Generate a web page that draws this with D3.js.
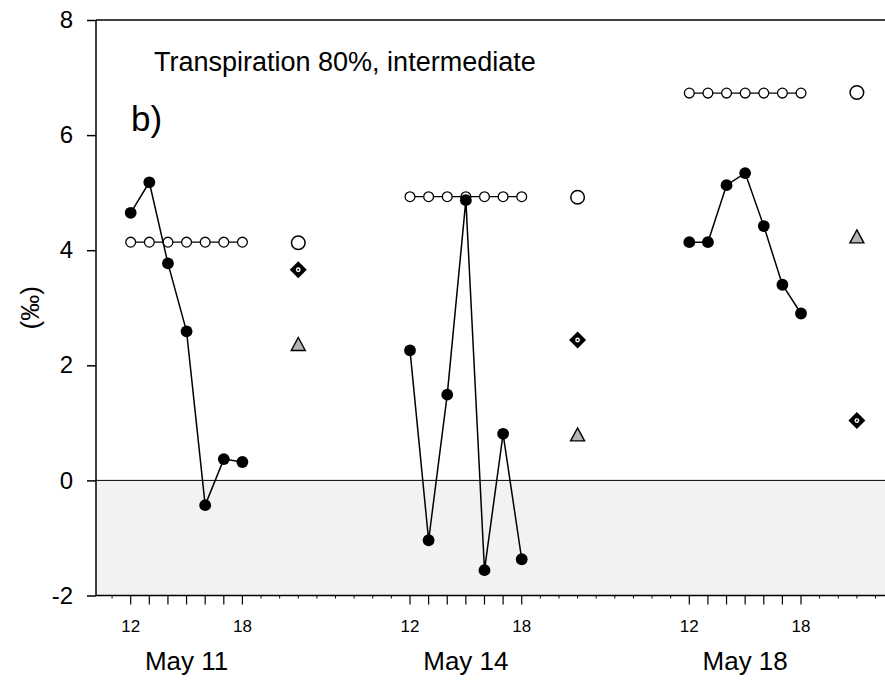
<!DOCTYPE html>
<html>
<head>
<meta charset="utf-8">
<script src="https://cdn.jsdelivr.net/npm/d3@7/dist/d3.min.js"></script>
<style>
  body { margin: 0; background: #fff; }
  svg { display: block; }
  text { font-family: "Liberation Sans", Arial, Helvetica, sans-serif; fill: #000; }
</style>
</head>
<body>
<svg id="chart" width="885" height="681"></svg>
<script>
// ---- data -------------------------------------------------------------
const days = ["May 11", "May 14", "May 18"];
const hours = [12, 13, 14, 15, 16, 17, 18];
const meanHour = 21;                       // where the daily means are plotted
const measured = [                         // hourly values (‰), filled dots
  [4.65, 5.18, 3.77, 2.59, -0.43, 0.37, 0.32],
  [2.26, -1.04, 1.49, 4.87, -1.56, 0.81, -1.37],
  [4.14, 4.14, 5.13, 5.34, 4.42, 3.40, 2.90]
];
const steadyState = [4.14, 4.93, 6.73];    // open-circle line, constant per day
const meanCircle = [4.13, 4.92, 6.74];
const meanDiamond = [3.66, 2.44, 1.04];
const meanTriangle = [2.37, 0.80, 4.24];
const yTicks = [-2, 0, 2, 4, 6, 8];
const labelledHours = [12, 18];
const titleText = "Transpiration 80%, intermediate";
const panelText = "b)";
const yLabelText = "(‰)";

// ---- layout -----------------------------------------------------------
const plotL = 96, plotR = 885, plotT = 20, plotB = 595.5;
const hoursPerDay = 15;                    // width of each day segment on the axis
const hourPx = 18.62;
const xStart = 12 - (130.7 - plotL) / hourPx;

const svg = d3.select("#chart");
const x = d3.scaleLinear()
  .domain([xStart, xStart + (plotR - plotL) / hourPx])
  .range([plotL, plotR]);
const y = d3.scaleLinear().domain([-2, 8]).range([plotB, plotT]);
const pos = (d, h) => x(d * hoursPerDay + h);

// shaded negative region
svg.append("rect")
  .attr("x", plotL).attr("y", y(0))
  .attr("width", plotR - plotL).attr("height", y(-2) - y(0))
  .attr("fill", "#f2f2f2");
svg.append("line")
  .attr("x1", plotL).attr("x2", plotR)
  .attr("y1", y(0)).attr("y2", y(0))
  .attr("stroke", "#000").attr("stroke-width", 1);

// frame
const frame = svg.append("g").attr("stroke", "#000").attr("stroke-width", 1.5).attr("fill", "none");
frame.append("line").attr("x1", plotL).attr("x2", plotR).attr("y1", plotT).attr("y2", plotT);
frame.append("line").attr("x1", plotL).attr("x2", plotR).attr("y1", plotB).attr("y2", plotB);
frame.append("line").attr("x1", plotL).attr("x2", plotL).attr("y1", plotT).attr("y2", plotB);

// y axis (plain hyphen for negatives)
const yAxis = d3.axisLeft(y).tickValues(yTicks).tickSize(9).tickPadding(14)
  .tickFormat(d => String(d));
const gy = svg.append("g").attr("transform", `translate(${plotL},0)`).call(yAxis);
gy.select(".domain").remove();
gy.selectAll(".tick line").attr("stroke", "#000").attr("stroke-width", 1.5);
gy.selectAll(".tick text")
  .attr("font-size", 24).attr("font-family", "Liberation Sans, Arial, sans-serif")
  .attr("fill", "#000");

// x axis: minor hourly ticks across the whole axis, major ticks 12–18 each day
const [d0, d1] = x.domain();
const minor = d3.range(Math.ceil(d0), Math.floor(d1) + 1);
const majorPos = [];
days.forEach((_, i) => hours.forEach(h => majorPos.push(i * hoursPerDay + h)));
const gx = svg.append("g");
gx.selectAll("line.minor").data(minor.filter(v => !majorPos.includes(v))).join("line")
  .attr("class", "minor")
  .attr("x1", d => x(d)).attr("x2", d => x(d))
  .attr("y1", plotB).attr("y2", plotB + 3)
  .attr("stroke", "#000").attr("stroke-width", 1);
gx.selectAll("line.major").data(majorPos).join("line")
  .attr("class", "major")
  .attr("x1", d => x(d)).attr("x2", d => x(d))
  .attr("y1", plotB).attr("y2", plotB + 9)
  .attr("stroke", "#000").attr("stroke-width", 1.2);
const hourLabels = [];
days.forEach((_, i) => labelledHours.forEach(h => hourLabels.push({ v: i * hoursPerDay + h, t: h })));
gx.selectAll("text.hour").data(hourLabels).join("text")
  .attr("class", "hour")
  .attr("x", d => x(d.v)).attr("y", 632)
  .attr("text-anchor", "middle").attr("font-size", 17)
  .text(d => d.t);
gx.selectAll("text.day").data(days).join("text")
  .attr("class", "day")
  .attr("x", (d, i) => pos(i, 15)).attr("y", 670)
  .attr("text-anchor", "middle").attr("font-size", 26)
  .text(d => d);

// y label
svg.append("text")
  .attr("transform", `translate(39,${(plotT + plotB) / 2}) rotate(-90)`)
  .attr("text-anchor", "middle").attr("font-size", 26)
  .text(yLabelText);

// title + panel letter
svg.append("text").attr("x", 154).attr("y", 71).attr("font-size", 27).text(titleText);
svg.append("text").attr("x", 131).attr("y", 131).attr("font-size", 35).text(panelText);

// steady-state lines with open circles
const line = d3.line().x(d => d[0]).y(d => d[1]);
days.forEach((_, i) => {
  const pts = hours.map(h => [pos(i, h), y(steadyState[i])]);
  svg.append("path").attr("d", line(pts))
    .attr("fill", "none").attr("stroke", "#000").attr("stroke-width", 1.3);
  svg.append("g").selectAll("circle").data(pts).join("circle")
    .attr("cx", d => d[0]).attr("cy", d => d[1]).attr("r", 4.9)
    .attr("fill", "#fff").attr("stroke", "#000").attr("stroke-width", 1.3);
});

// measured hourly values
days.forEach((_, i) => {
  const pts = hours.map((h, j) => [pos(i, h), y(measured[i][j])]);
  svg.append("path").attr("d", line(pts))
    .attr("fill", "none").attr("stroke", "#000").attr("stroke-width", 1.5);
  svg.append("g").selectAll("circle").data(pts).join("circle")
    .attr("cx", d => d[0]).attr("cy", d => d[1]).attr("r", 5.9)
    .attr("fill", "#000");
});

// daily means
days.forEach((_, i) => {
  const cx = pos(i, meanHour);
  svg.append("circle")
    .attr("cx", cx).attr("cy", y(meanCircle[i])).attr("r", 6.8)
    .attr("fill", "#fff").attr("stroke", "#000").attr("stroke-width", 1.5);

  const dy = y(meanDiamond[i]), s = 8.5;
  svg.append("path")
    .attr("d", `M${cx},${dy - s}L${cx + s},${dy}L${cx},${dy + s}L${cx - s},${dy}Z`)
    .attr("fill", "#000");
  svg.append("circle").attr("cx", cx).attr("cy", dy).attr("r", 2.4).attr("fill", "#fff");
  svg.append("circle").attr("cx", cx).attr("cy", dy).attr("r", 1).attr("fill", "#000");

  const ty = y(meanTriangle[i]), hw = 7, hh = 6.5;
  svg.append("path")
    .attr("d", `M${cx},${ty - hh}L${cx + hw},${ty + hh}L${cx - hw},${ty + hh}Z`)
    .attr("fill", "#b4b4b4").attr("stroke", "#000").attr("stroke-width", 1.4)
    .attr("stroke-linejoin", "miter");
});
</script>
</body>
</html>
